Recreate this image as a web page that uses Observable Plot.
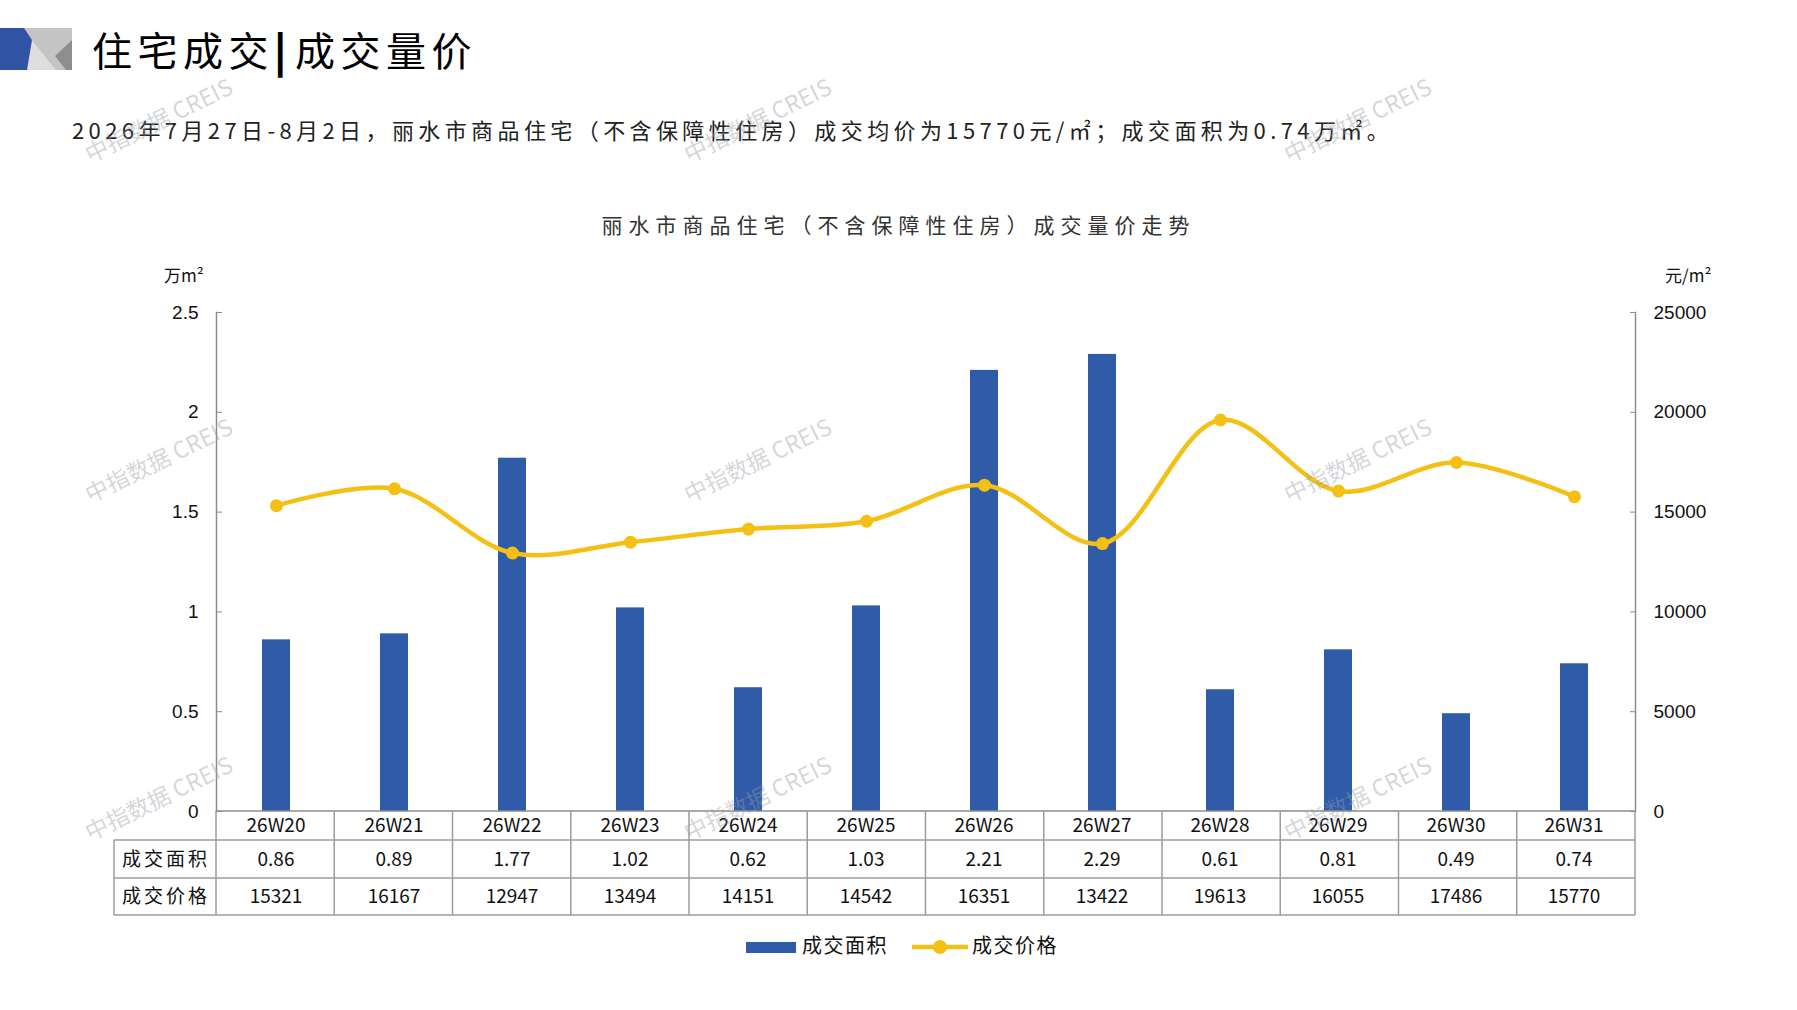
<!DOCTYPE html>
<html><head><meta charset="utf-8">
<script src="https://cdn.jsdelivr.net/npm/d3@7"></script>
<script src="https://cdn.jsdelivr.net/npm/@observablehq/plot@0.6"></script>
<style>
body{margin:0;background:#fff;}
#page{position:relative;width:1797px;height:1010px;overflow:hidden;font-family:"Noto Sans CJK SC",sans-serif;color:#111;background:#fff;}
.abs{position:absolute;white-space:nowrap;line-height:1;}
#title{left:92px;top:29px;font-size:40px;letter-spacing:5.5px;color:#000;}
#title b{font-weight:900;margin:0 3px 0 0;}
#subtitle{left:72px;top:118px;font-size:22px;letter-spacing:4.4px;color:#222;}
#ctitle{left:0;width:1797px;text-align:center;top:214px;font-size:21px;letter-spacing:6px;color:#333;}
.unit{top:266px;font-size:17px;color:#111;}
#legend{top:934px;left:0;width:1797px;height:26px;}
.lg{position:absolute;font-size:20px;letter-spacing:1.5px;color:#111;top:1px;}
</style></head><body><div id="page">
<svg class="abs" style="left:0;top:28px" width="72" height="42" viewBox="0 0 72 42">
  <rect x="0" y="0" width="72" height="42" fill="#c4c4c4"/>
  <polygon points="22,0 56,42 24,42" fill="#dedede"/>
  <polygon points="72,12 55,28 66,42 72,42" fill="#8e8e8e"/>
  <polygon points="0,0 24,0 32,12 27,42 0,42" fill="#3153a3"/>
</svg>
<div id="title" class="abs">住宅成交<b>|</b>成交量价</div>
<div id="subtitle" class="abs">2026年7月27日-8月2日，丽水市商品住宅（不含保障性住房）成交均价为15770元/㎡；成交面积为0.74万㎡。</div>
<div id="ctitle" class="abs">丽水市商品住宅（不含保障性住房）成交量价走势</div>
<div class="abs unit" style="left:164px">万m²</div>
<div class="abs unit" style="left:1665px">元/m²</div>
<div id="legend" class="abs"></div>
</div>
<script>
// ---- data ----
const weeks = ["26W20","26W21","26W22","26W23","26W24","26W25","26W26","26W27","26W28","26W29","26W30","26W31"];
const area = [0.86, 0.89, 1.77, 1.02, 0.62, 1.03, 2.21, 2.29, 0.61, 0.81, 0.49, 0.74];
const price = [15321, 16167, 12947, 13494, 14151, 14542, 16351, 13422, 19613, 16055, 17486, 15770];
const areaTicks = [0, 0.5, 1, 1.5, 2, 2.5];
const priceTicks = [0, 5000, 10000, 15000, 20000, 25000];
const seriesNames = ["成交面积", "成交价格"];
const watermark = "中指数据 CREIS";

const BLUE = "#2f5ba8", GOLD = "#f5c015", AXIS = "#8c8c8c", GRID = "#9c9c9c";
const data = weeks.map((w, i) => ({week: w, area: area[i], price: price[i]}));
const ratio = priceTicks[priceTicks.length - 1] / areaTicks[areaTicks.length - 1];

const SVG_TOP = 250;
const chart = Plot.plot({
  width: 1797, height: 680,
  marginTop: 62, marginBottom: 119, marginLeft: 216, marginRight: 162,
  x: {domain: weeks, paddingInner: 0.76, paddingOuter: 0.38, axis: null},
  y: {domain: [0, 2.5], axis: null},
  style: {fontFamily: "'Liberation Sans', Arial, sans-serif", fontSize: "19px", color: "#111", background: "transparent", overflow: "visible"},
  marks: [
    Plot.barY(data, {x: "week", y: "area", fill: BLUE}),
    Plot.line(data, {x: "week", y: d => d.price / ratio, stroke: GOLD, strokeWidth: 4.5, curve: "catmull-rom"}),
    Plot.dot(data, {x: "week", y: d => d.price / ratio, r: 6.5, fill: GOLD}),
    Plot.axisY({anchor: "left", label: null, ticks: areaTicks, tickSize: -6, tickPadding: 24, stroke: AXIS, fill: "#111", tickFormat: d => String(d)}),
    Plot.axisY({anchor: "right", label: null, ticks: priceTicks.map(v => v / ratio), tickSize: -6, tickPadding: 24, stroke: AXIS, fill: "#111", tickFormat: (d, i) => String(priceTicks[i])}),
    Plot.frame({anchor: "left", stroke: AXIS, strokeWidth: 1.5}),
    Plot.frame({anchor: "right", stroke: AXIS, strokeWidth: 1.5})
  ]
});
chart.style.position = "absolute";
chart.style.left = "0px";
chart.style.top = SVG_TOP + "px";
document.getElementById("page").appendChild(chart);

// ---- data table under the x axis, aligned on the Plot x scale ----
const xs = chart.scale("x");
const x0 = xs.range[0], x1 = xs.range[1];
const step = (x1 - x0) / weeks.length;
const yBase = 811 - SVG_TOP;          // zero line inside svg
const rows = [yBase, yBase + 29, yBase + 67, yBase + 104];
const labelLeft = 114;
const svg = d3.select(chart);
const g = svg.append("g").attr("stroke", GRID).attr("stroke-width", 1.5);
g.append("line").attr("x1", x0).attr("x2", x1).attr("y1", rows[0]).attr("y2", rows[0]).attr("stroke", AXIS);
for (let r = 1; r < 4; r++) g.append("line").attr("x1", labelLeft).attr("x2", x1).attr("y1", rows[r]).attr("y2", rows[r]);
g.append("line").attr("x1", labelLeft).attr("x2", labelLeft).attr("y1", rows[1]).attr("y2", rows[3]);
for (let i = 0; i <= weeks.length; i++) {
  const xx = x0 + i * step;
  g.append("line").attr("x1", xx).attr("x2", xx).attr("y1", rows[0]).attr("y2", rows[3]);
}
const tg = svg.append("g").attr("font-family", "'Noto Sans CJK SC', sans-serif").attr("font-size", 19).attr("fill", "#111").attr("text-anchor", "middle").attr("dominant-baseline", "central");
const rowVals = [weeks, area.map(v => v.toFixed(2)), price.map(String)];
rowVals.forEach((vals, r) => {
  const yc = (rows[r] + rows[r + 1]) / 2 - 2;
  vals.forEach((v, i) => {
    tg.append("text").attr("x", xs.apply(weeks[i]) + xs.bandwidth / 2).attr("y", yc).text(v);
  });
});
seriesNames.forEach((n, r) => {
  const yc = (rows[r + 1] + rows[r + 2]) / 2 - 2;
  tg.append("text").attr("x", (labelLeft + x0) / 2 + 1).attr("y", yc).attr("letter-spacing", 3).text(n);
});

// ---- legend ----
const lg = document.getElementById("legend");
lg.innerHTML =
  `<svg style="position:absolute;left:746px;top:8px" width="50" height="11"><rect width="50" height="11" fill="${BLUE}"/></svg>` +
  `<div class="lg" style="left:802px">${seriesNames[0]}</div>` +
  `<svg style="position:absolute;left:912px;top:5px" width="56" height="16"><line x1="0" x2="56" y1="8" y2="8" stroke="${GOLD}" stroke-width="4.5"/><circle cx="28" cy="8" r="7" fill="${GOLD}"/></svg>` +
  `<div class="lg" style="left:972px">${seriesNames[1]}</div>`;

// ---- watermarks ----
const wmX = [158, 757, 1357], wmY = [119, 459, 797];
const wm = d3.select("#page").append("svg").attr("class", "abs").style("left", 0).style("top", 0)
  .attr("width", 1797).attr("height", 1010).style("pointer-events", "none");
wmY.forEach(yy => wmX.forEach(xx => {
  wm.append("text").attr("x", xx).attr("y", yy).attr("text-anchor", "middle").attr("dominant-baseline", "central")
    .attr("transform", `rotate(-26 ${xx} ${yy})`).attr("font-family", "'Noto Sans CJK SC', sans-serif")
    .attr("font-size", 23).attr("fill", "rgba(150,155,165,0.42)").text(watermark);
}));
</script>
</body></html>
